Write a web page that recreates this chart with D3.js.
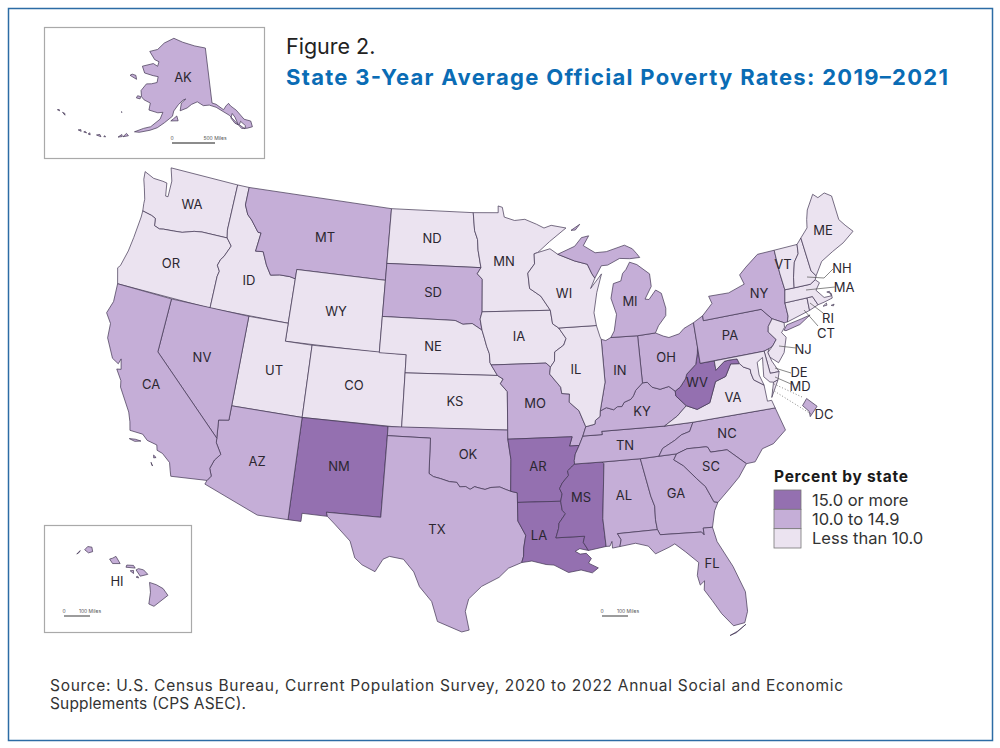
<!DOCTYPE html>
<html>
<head>
<meta charset="utf-8">
<script src="https://cdn.jsdelivr.net/npm/d3@7"></script>
<style>
  html, body { margin: 0; padding: 0; background: #fff; }
  svg { display: block; font-family: Inter, "Open Sans", sans-serif; }
  .state { stroke: #3f3350; stroke-width: 0.7; stroke-linejoin: round; }
  .lbl { font-size: 13px; fill: #2b2730; text-anchor: middle; dominant-baseline: central; }
  .leader { stroke: #555; stroke-width: 0.7; fill: none; }
</style>
</head>
<body>
<svg id="chart" width="1000" height="748"></svg>
<script>
// poverty class per state
var high = ["NM", "AR", "LA", "MS", "WV"];
var low = ["WA", "OR", "ID", "WY", "UT", "CO", "ND", "NE", "KS", "MN", "IA", "WI", "IL", "VA", "NJ", "DE", "MD", "NH", "VT", "ME", "MA", "RI", "CT"];
var legendLabels = ["15.0 or more", "10.0 to 14.9", "Less than 10.0"];
var classColors = ["#9470b0", "#c5aed7", "#ebe3f0"];

// river borders shared by two states, lon/lat
var redRiver = [[-100,34.56],[-99.7,34.4],[-99.2,34.3],[-98.6,34.15],[-98.1,34.12],[-97.9,33.88],[-97.5,33.9],[-97.2,33.75],[-96.9,33.9],[-96.6,33.83],[-96.2,33.75],[-95.8,33.86],[-95.2,33.88],[-94.8,33.74],[-94.48,33.64]];
var missTN = [[-89.7,36],[-90,35.55],[-90.1,35.2],[-90.1,35]];
var missAR = [[-90.1,35],[-90.3,34.85],[-90.6,34.65],[-90.55,34.4],[-91,34],[-91.2,33.7],[-91.05,33.4],[-91.17,33]];
var missLA = [[-91.17,33],[-91.1,32.5],[-90.9,32.3],[-91.35,31.8],[-91.4,31.5],[-91.6,31]];
var ohioIL = [[-89.15,37],[-88.5,37.1],[-88.45,37.3],[-88.1,37.5],[-88.05,37.8]];
var ohioIN = [[-88.05,37.8],[-87.6,37.95],[-87.1,37.8],[-86.8,37.95],[-86.5,37.93],[-86.3,38.15],[-85.8,38.28],[-85.6,38.45],[-85.4,38.73],[-84.85,39.1]];
var ohioOH = [[-84.85,39.1],[-84.5,39.1],[-84.2,38.8],[-83.65,38.63],[-83,38.72],[-82.6,38.42]];
var ohioWV = [[-82.6,38.42],[-82.2,38.6],[-81.75,39],[-81.6,39.25],[-80.85,39.7],[-80.6,40.3],[-80.52,40.64]];
var rev = function (a) { return a.slice().reverse(); };

// outlines, lon/lat
var outlines = {
  WA: [[[-124.73,48.38],[-123.9,48.16],[-123.1,48.15],[-122.75,48.12],[-122.55,47.4],[-122.35,47.4],[-122.4,48.3],[-122.76,49],[-117.03,49],[-117.04,46.42],[-116.92,45.99],[-118.98,45.99],[-119.6,45.92],[-120.5,45.7],[-121.2,45.65],[-122,45.6],[-122.3,45.55],[-122.75,45.65],[-122.85,46.05],[-123.2,46.15],[-123.98,46.25],[-124.07,46.65],[-124.1,46.9],[-124.4,47.5],[-124.65,47.95]]],
  OR: [[[-116.92,45.99],[-118.98,45.99],[-119.6,45.92],[-120.5,45.7],[-121.2,45.65],[-122,45.6],[-122.3,45.55],[-122.75,45.65],[-122.85,46.05],[-123.2,46.15],[-123.98,46.25],[-123.96,45.9],[-124.05,44.7],[-124.15,43.9],[-124.4,43],[-124.55,42.84],[-124.2,42],[-117.03,42],[-117.03,43.8],[-116.95,44.1],[-117.2,44.4],[-117.05,44.75],[-116.85,44.95],[-116.47,45.6]]],
  ID: [[[-117.03,49],[-116.05,49],[-116.05,48],[-115.7,47.5],[-115.3,47.25],[-114.6,46.65],[-114.35,46.65],[-114.5,45.6],[-113.9,45.65],[-113.45,44.95],[-113,44.45],[-112.3,44.55],[-111.5,44.55],[-111.05,44.48],[-111.05,42],[-117.03,42],[-117.03,43.8],[-116.95,44.1],[-117.2,44.4],[-117.05,44.75],[-116.85,44.95],[-116.47,45.6],[-116.92,45.99],[-117.04,46.42]]],
  MT: [[[-116.05,49],[-104.05,49],[-104.05,45],[-111.05,45],[-111.05,44.48],[-111.5,44.55],[-112.3,44.55],[-113,44.45],[-113.45,44.95],[-113.9,45.65],[-114.5,45.6],[-114.35,46.65],[-114.6,46.65],[-115.3,47.25],[-115.7,47.5],[-116.05,48]]],
  WY: [[[-111.05,45],[-104.05,45],[-104.05,41],[-111.05,41]]],
  UT: [[[-114.05,42],[-111.05,42],[-111.05,41],[-109.05,41],[-109.05,37],[-114.05,37]]],
  CO: [[[-109.05,41],[-102.05,41],[-102.05,37],[-109.05,37]]],
  NM: [[[-109.05,37],[-103,37],[-103.04,32],[-106.62,32],[-106.53,31.78],[-108.2,31.78],[-108.2,31.33],[-109.05,31.33]]],
  AZ: [[[-114.05,37],[-109.05,37],[-109.05,31.33],[-111.07,31.33],[-114.81,32.5],[-114.72,32.72],[-114.5,33],[-114.7,33.4],[-114.5,33.9],[-114.15,34.27],[-114.6,34.85],[-114.63,35.1],[-114.75,36.1],[-114.05,36.2]]],
  NV: [[[-120,42],[-114.05,42],[-114.05,36.2],[-114.75,36.1],[-114.63,35.1],[-120,39]]],
  CA: [[[-124.2,42],[-120,42],[-120,39],[-114.63,35.1],[-114.6,34.85],[-114.15,34.27],[-114.5,33.9],[-114.7,33.4],[-114.5,33],[-114.72,32.72],[-117.12,32.53],[-117.25,32.85],[-117.4,33.25],[-118,33.65],[-118.4,33.75],[-118.5,34.03],[-119.2,34.15],[-119.6,34.42],[-120.5,34.45],[-120.65,34.9],[-120.9,35.4],[-121.9,36.6],[-122,36.95],[-122.5,37.5],[-122.2,37.55],[-122.4,38.1],[-122.5,37.8],[-123,38],[-123.75,39],[-123.85,39.8],[-124.35,40.3],[-124.1,41]],
       [[-120.4,34],[-120,33.93],[-119.6,34.03],[-120,34.05]],[[-118.55,33.45],[-118.35,33.35],[-118.5,33.3]],[[-118.6,33.03],[-118.45,32.85],[-118.55,32.95]]],
  ND: [[[-104.05,49],[-97.23,49],[-97.1,48],[-96.85,47.5],[-96.8,46.9],[-96.56,45.94],[-104.05,45.94]]],
  SD: [[[-104.05,45.94],[-96.56,45.94],[-96.85,45.6],[-96.45,45.3],[-96.45,43.5],[-96.6,43.1],[-96.45,42.49],[-97.2,42.85],[-97.9,42.8],[-98.5,43],[-104.05,43]]],
  NE: [[[-104.05,43],[-98.5,43],[-97.9,42.8],[-97.2,42.85],[-96.45,42.49],[-96.25,42],[-96.1,41.6],[-95.9,41.2],[-95.85,40.7],[-95.31,40],[-102.05,40],[-102.05,41],[-104.05,41]]],
  KS: [[[-102.05,40],[-95.31,40],[-94.9,39.8],[-95.1,39.55],[-94.61,39.11],[-94.62,37],[-102.05,37]]],
  OK: [[[-103,37],[-94.62,37],[-94.62,36.5],[-94.43,35.39]].concat(rev(redRiver), [[-100,36.5],[-103,36.5]])],
  TX: [[[-106.62,32],[-103.04,32],[-103,36.5],[-100,36.5]].concat(redRiver, [[-94.04,33.55],[-94.04,32],[-93.55,31.2],[-93.7,30.5],[-93.72,30.05],[-93.85,29.7],[-94.7,29.4],[-95.3,28.9],[-96.4,28.4],[-97.2,27.7],[-97.4,27],[-97.15,25.96],[-97.6,25.85],[-99.1,26.4],[-99.5,27.5],[-100.3,28.3],[-100.7,29.1],[-101.4,29.77],[-102.3,29.88],[-102.7,29.7],[-103.15,28.98],[-104,29.3],[-104.5,29.65],[-104.9,30.55],[-106,31.4],[-106.53,31.78]])],
  MN: [[[-97.23,49],[-95.15,49],[-95.15,49.38],[-94.8,49.3],[-94.65,48.75],[-93.8,48.55],[-92.95,48.6],[-92,48.3],[-91.4,48.07],[-90.8,48.2],[-89.6,48],[-91,47.3],[-92,46.72],[-92.29,46.66],[-92.29,46.1],[-92.85,45.6],[-92.75,44.75],[-91.9,44.3],[-91.22,43.5],[-96.45,43.5],[-96.45,45.3],[-96.85,45.6],[-96.56,45.94],[-96.8,46.9],[-96.85,47.5],[-97.1,48]]],
  IA: [[[-96.45,43.5],[-91.22,43.5],[-91.1,42.75],[-90.65,42.5],[-90.15,41.9],[-90.35,41.55],[-91.05,41.2],[-91.1,40.7],[-91.42,40.38],[-91.73,40.61],[-95.77,40.58],[-95.85,40.7],[-95.9,41.2],[-96.1,41.6],[-96.25,42],[-96.45,42.49],[-96.6,43.1]]],
  MO: [[[-95.77,40.58],[-91.73,40.61],[-91.42,40.38],[-91.5,40],[-90.75,39.25],[-90.7,38.9],[-90.15,38.85],[-90.2,38.4],[-89.55,37.9],[-89.15,37],[-89.4,36.5],[-89.7,36],[-90.37,36],[-90.15,36.5],[-94.62,36.5],[-94.62,37],[-94.61,39.11],[-95.1,39.55],[-94.9,39.8],[-95.31,40]]],
  AR: [[[-94.62,36.5],[-90.15,36.5],[-90.37,36]].concat(missTN, missAR, [[-94.04,33.02],[-94.04,33.55],[-94.48,33.64],[-94.43,35.39]])],
  LA: [[[-94.04,33.02]].concat(missLA, [[-89.73,31],[-89.85,30.67],[-89.55,30.2],[-90.1,30.33],[-90.4,30.2],[-90.1,30.03],[-89.7,30.05],[-89.4,29.75],[-89.6,29.5],[-89,29.2],[-89.4,28.95],[-90.1,29.15],[-90.9,29.05],[-91.8,29.5],[-92.3,29.55],[-93.2,29.77],[-93.85,29.7],[-93.72,30.05],[-93.7,30.5],[-93.55,31.2],[-94.04,32]])],
  MS: [[[-90.1,35],[-88.2,35],[-88.1,34.9],[-88.47,31.9],[-88.4,30.35],[-89.55,30.2],[-89.85,30.67],[-89.73,31]].concat(rev(missLA), rev(missAR))],
  AL: [[[-88.2,35],[-85.6,34.98],[-85.18,32.87],[-85,32.3],[-85.05,31.55],[-85,31],[-87.6,31],[-87.4,30.65],[-87.52,30.28],[-88,30.23],[-88,30.6],[-88.15,30.35],[-88.4,30.35],[-88.47,31.9],[-88.1,34.9]]],
  GA: [[[-85.6,34.98],[-83.11,35],[-83.35,34.7],[-82.75,34.3],[-82,33.5],[-81.5,33],[-81.1,32.1],[-80.85,32.03],[-81.15,31.6],[-81.45,30.72],[-82.05,30.75],[-82.05,30.37],[-82.2,30.55],[-84.86,30.7],[-85,31],[-85.05,31.55],[-85,32.3],[-85.18,32.87]]],
  FL: [[[-87.6,31],[-85,31],[-84.86,30.7],[-82.2,30.55],[-82.05,30.37],[-82.05,30.75],[-81.45,30.72],[-81.3,29.9],[-80.55,28.4],[-80.05,26.9],[-80.12,25.8],[-80.4,25.2],[-81.1,25.13],[-81.7,25.9],[-82.15,26.7],[-82.55,27.35],[-82.45,27.85],[-82.75,27.65],[-82.85,28.2],[-82.65,28.9],[-83.4,29.6],[-84,30.1],[-84.4,29.95],[-85.3,29.68],[-85.7,30.15],[-86.5,30.38],[-87.52,30.28],[-87.4,30.65]],
       [[-80.35,25.1],[-81,24.72],[-81.4,24.62],[-80.9,24.8]]],
  TN: [[[-89.7,36],[-89.4,36.5],[-88.05,36.5],[-88.07,36.68],[-83.68,36.6],[-81.68,36.59],[-82,36.12],[-82.6,36],[-83.1,35.75],[-84,35.4],[-84.32,35],[-85.6,34.98],[-88.2,35]].concat(rev(missTN))],
  NC: [[[-84.32,35],[-84,35.4],[-83.1,35.75],[-82.6,36],[-82,36.12],[-81.68,36.59],[-75.87,36.55],[-75.5,35.25],[-76.5,34.65],[-77.3,34.5],[-77.95,33.87],[-78.55,33.86],[-79.67,34.8],[-80.8,34.82],[-80.93,35.1],[-81.05,35.15],[-82.35,35.2],[-83.11,35]]],
  SC: [[[-83.11,35],[-82.35,35.2],[-81.05,35.15],[-80.93,35.1],[-80.8,34.82],[-79.67,34.8],[-78.55,33.86],[-79.2,33.2],[-79.9,32.7],[-80.85,32.03],[-81.1,32.1],[-81.5,33],[-82,33.5],[-82.75,34.3],[-83.35,34.7]]],
  KY: [[[-89.4,36.5]].concat(ohioIL, ohioIN, ohioOH, [[-82.6,38.15],[-81.97,37.54],[-82.7,37.05],[-83.68,36.6],[-88.07,36.68],[-88.05,36.5]])],
  VA: [[[-83.68,36.6],[-81.68,36.59],[-75.87,36.55],[-76,37],[-76.3,37],[-76.3,37.9],[-76.95,38.3],[-77.05,38.7],[-77.04,38.9],[-77.5,39.1],[-77.72,39.32],[-78.35,39.4],[-78.87,38.77],[-79.65,38.59],[-80.3,37.5],[-81.25,37.25],[-81.97,37.54],[-82.7,37.05]],
       [[-75.95,37.15],[-75.25,38.03],[-75.6,37.95]]],
  WV: [[[-81.97,37.54],[-82.6,38.15]].concat(ohioWV, [[-80.52,39.72],[-79.48,39.72],[-79.48,39.2],[-78.77,39.6],[-78.4,39.62],[-77.83,39.6],[-77.72,39.32],[-78.35,39.4],[-78.87,38.77],[-79.65,38.59],[-80.3,37.5],[-81.25,37.25]])],
  OH: [ohioOH.concat(ohioWV.slice(1), [[-80.52,41.98],[-81.3,41.75],[-81.7,41.5],[-82.5,41.38],[-82.9,41.5],[-83.45,41.73],[-84.8,41.7]])],
  IN: [[[-87.53,41.71],[-87.2,41.62],[-86.8,41.76],[-84.8,41.7]].concat(rev(ohioIN), [[-87.53,39.35]])],
  IL: [[[-90.65,42.5],[-87.8,42.49],[-87.6,41.85],[-87.53,41.71],[-87.53,39.35]].concat(rev(ohioIL), [[-89.55,37.9],[-90.2,38.4],[-90.15,38.85],[-90.7,38.9],[-90.75,39.25],[-91.5,40],[-91.42,40.38],[-91.1,40.7],[-91.05,41.2],[-90.35,41.55],[-90.15,41.9]])],
  WI: [[[-92.29,46.66],[-92,46.72],[-91,46.9],[-90.4,46.57],[-89.1,46.14],[-88.1,45.9],[-87.8,45.35],[-87.6,45.1],[-88,44.55],[-87.05,45.3],[-87.55,44.3],[-87.9,43.2],[-87.8,42.49],[-90.65,42.5],[-91.1,42.75],[-91.22,43.5],[-91.9,44.3],[-92.75,44.75],[-92.85,45.6],[-92.29,46.1]]],
  MI: [[[-90.4,46.57],[-89,46.95],[-88.4,47.4],[-87.8,47.47],[-88.3,46.95],[-87.4,46.5],[-86.5,46.5],[-85,46.75],[-84.4,46.5],[-84.1,46.2],[-83.9,45.97],[-84.7,45.97],[-85.5,46.05],[-86.5,45.75],[-87,45.75],[-87.6,45.1],[-87.8,45.35],[-88.1,45.9],[-89.1,46.14]],
       [[-86.8,41.76],[-84.8,41.7],[-83.45,41.73],[-83.15,42.1],[-82.5,42.6],[-82.42,43],[-82.6,43.85],[-83,44.07],[-83.6,43.6],[-83.9,43.65],[-83.3,44.3],[-83.3,45],[-84.2,45.6],[-84.75,45.78],[-85.1,45.4],[-85.4,45.2],[-85.6,44.8],[-86.2,44.7],[-86.5,43.9],[-86.2,43],[-86.5,42.1]],
       [[-89.2,47.85],[-88.45,48.15],[-88.85,47.85]]],
  PA: [[[-80.52,41.98],[-80.52,39.72],[-75.79,39.72],[-75.4,39.8],[-75.1,39.9],[-74.75,40.2],[-75.2,40.7],[-75.1,41],[-74.7,41.36],[-75.35,42],[-79.76,42],[-79.76,42.27]]],
  NY: [[[-79.76,42.27],[-79.76,42],[-75.35,42],[-74.7,41.36],[-73.9,41],[-73.65,41],[-73.5,41.3],[-73.5,42.05],[-73.27,42.75],[-73.35,43.7],[-73.35,45.01],[-74.7,45],[-75.8,44.45],[-76.4,44.1],[-76.2,43.55],[-77.5,43.25],[-79.05,43.27],[-78.9,42.85]],
       [[-74.03,40.6],[-73.75,40.85],[-72.6,40.98],[-71.9,41.07],[-72.8,40.7],[-73.9,40.55]]],
  NJ: [[[-74.7,41.36],[-75.1,41],[-75.2,40.7],[-74.75,40.2],[-75.1,39.9],[-75.55,39.6],[-75.5,39.35],[-74.95,38.93],[-74.4,39.4],[-74,40.2],[-74.25,40.5],[-73.95,40.75],[-73.9,41]]],
  DE: [[[-75.79,39.72],[-75.4,39.8],[-75.55,39.6],[-75.4,39.1],[-75.05,38.45],[-75.7,38.46]]],
  MD: [[[-79.48,39.72],[-75.79,39.72],[-75.7,38.46],[-75.05,38.45],[-75.25,38.03],[-75.6,37.95],[-75.85,38],[-76.2,38.35],[-76.1,38.9],[-76,39.4],[-76.45,39.2],[-76.5,38.5],[-76.3,37.9],[-76.95,38.3],[-77.05,38.7],[-77.04,38.9],[-77.5,39.1],[-77.72,39.32],[-77.83,39.6],[-78.4,39.62],[-78.77,39.6],[-79.48,39.2]]],
  CT: [[[-73.5,42.05],[-71.8,42.02],[-71.85,41.32],[-73.65,41],[-73.5,41.3]]],
  RI: [[[-71.8,42.02],[-71.38,42.02],[-71.13,41.5],[-71.85,41.32]]],
  MA: [[[-73.27,42.75],[-72.55,42.73],[-71.3,42.7],[-70.85,42.87],[-70.6,42.65],[-71,42.3],[-70.55,41.8],[-70,41.78],[-70.05,42.05],[-70.25,42.05],[-69.95,41.9],[-69.98,41.65],[-70.65,41.55],[-71.13,41.5],[-71.38,42.02],[-71.8,42.02],[-73.5,42.05]],
       [[-70.8,41.35],[-70.5,41.47],[-70.5,41.35]],[[-70.2,41.28],[-69.97,41.3],[-70.05,41.22]]],
  VT: [[[-73.35,45.01],[-71.5,45.01],[-71.6,44.5],[-72.05,44.1],[-72.4,43.3],[-72.55,42.73],[-73.27,42.75],[-73.35,43.7]]],
  NH: [[[-71.5,45.01],[-71.08,45.3],[-70.98,43.4],[-70.7,43.07],[-70.85,42.87],[-71.3,42.7],[-72.55,42.73],[-72.4,43.3],[-72.05,44.1],[-71.6,44.5]]],
  ME: [[[-71.08,45.3],[-70.4,45.75],[-70.25,46.2],[-70,46.7],[-69.23,47.46],[-68.9,47.2],[-68.3,47.35],[-67.8,47.07],[-67.8,45.7],[-67.45,45.3],[-67,44.85],[-68,44.4],[-69,44.1],[-70,43.75],[-70.7,43.07],[-70.98,43.4]]]
};
var dcOutline = [[-77.12,38.93],[-77.04,39],[-76.91,38.89],[-77.04,38.79],[-77.04,38.85]];
var akOutline = [
  [[-141,69.65],[-141,60.3],[-139.7,60],[-137.5,58.9],[-136.5,59.45],[-135.5,59.8],[-135,59.3],[-133.5,58.4],[-131.8,56.6],[-130,56],[-130,55],[-131.5,55],[-133.2,55.2],[-134.5,56.5],[-136,57.8],[-137.5,58.5],[-139.8,59.5],[-142,60],[-144,60],[-146,60.7],[-148,60.3],[-149.5,59.7],[-151.8,59.2],[-151.5,60.5],[-150,61.2],[-151,61],[-152.5,60.2],[-153.9,59.1],[-154.2,58.2],[-156.5,57],[-158.5,56],[-160.5,55.4],[-163.5,54.7],[-164.9,54.6],[-162.5,55.5],[-160.5,56],[-158,57.5],[-157.4,58.7],[-159,58.5],[-162,58.7],[-162,59.9],[-164.3,60.2],[-165.4,60.6],[-166.1,61.6],[-164.8,62.9],[-163,63.1],[-161,63.5],[-161,64.5],[-163,64.5],[-166.5,64.6],[-168.1,65.6],[-164,66.5],[-162,66.2],[-161.8,67],[-163.8,67.2],[-166.8,68.35],[-163.5,69],[-161,70.3],[-156.6,71.35],[-152,70.8],[-146,70.15]],
  [[-154.6,57.4],[-152.3,57.5],[-152.8,58.3],[-153.8,57.8]],
  [[-167,60.2],[-165.7,60.2],[-165.7,60.6],[-166.8,60.6]],
  [[-171.6,63.5],[-168.8,63.2],[-169.5,63.8],[-171,63.8]],
  [[-170.4,57.2],[-170.1,57.15],[-170.2,57.25]],
  [[-169,53],[-167.9,53.3],[-168.2,53.6]],[[-167.7,53.3],[-166.3,53.7],[-167,54]],
  [[-174.8,52.1],[-173.5,52.1],[-174,52.4]],[[-177,51.7],[-176.4,51.7],[-176.7,52]],
  [[-178.3,51.7],[-177.5,51.75],[-178,51.9]],[[-172.8,52.3],[-172.3,52.35],[-172.6,52.5]],
  [[-186.9,52.85],[-187.6,52.8],[-187.2,53]],[[-185,52.7],[-186,52.9],[-185.3,52.95]],
  [[-179.9,51.6],[-179,51.6],[-179.3,51.85]],
  [[-135.7,57.3],[-134.8,56.3],[-133.9,55.9],[-134.4,57.3],[-135,58]],
  [[-133.6,55.9],[-132.3,55],[-131.9,55.5],[-133,56.4]]
];
var hiOutline = [
  [[-159.78,22.05],[-159.55,21.88],[-159.3,21.95],[-159.35,22.2],[-159.6,22.23]],
  [[-160.25,21.8],[-160.05,22],[-160.1,21.9]],
  [[-158.28,21.55],[-158.1,21.3],[-157.65,21.3],[-157.9,21.7],[-158.1,21.6]],
  [[-157.3,21.1],[-156.75,21.05],[-156.85,21.2],[-157.25,21.22]],
  [[-157.05,20.9],[-156.85,20.75],[-156.85,20.92]],
  [[-156.7,20.95],[-156.45,20.6],[-156,20.7],[-156.25,20.95],[-156.55,21.02]],
  [[-156.7,20.55],[-156.55,20.5],[-156.6,20.6]],
  [[-155.9,20.25],[-155.85,19.7],[-155.95,19.05],[-155.65,18.92],[-154.82,19.52],[-155.1,19.9],[-155.5,20.12]]
];

var svg = d3.select("#chart");
var line = d3.line();

function fillOf(st) {
  if (high.indexOf(st) >= 0) return classColors[0];
  if (low.indexOf(st) >= 0) return classColors[2];
  return classColors[1];
}
function ringsPath(rings, proj) {
  return rings.map(function (r) { return line(r.map(proj)) + "Z"; }).join("");
}
// slide a projection so one lon/lat lands on a given pixel
function pinTo(proj, lonlat, x, y) {
  var p = proj(lonlat), t = proj.translate();
  return proj.translate([t[0] + x - p[0], t[1] + y - p[1]]);
}

// frames
svg.append("rect").attr("x", 8.5).attr("y", 8.5).attr("width", 984).attr("height", 732)
  .attr("fill", "none").attr("stroke", "#2c6ca5").attr("stroke-width", 1.5);
svg.append("rect").attr("x", 44.5).attr("y", 27.5).attr("width", 220).attr("height", 131)
  .attr("fill", "none").attr("stroke", "#a9a9a9").attr("stroke-width", 1.2);
svg.append("rect").attr("x", 44.5).attr("y", 525.5).attr("width", 147).attr("height", 107)
  .attr("fill", "none").attr("stroke", "#a9a9a9").attr("stroke-width", 1.2);

// lower 48
var usProj = d3.geoAlbers().rotate([96, 0]).center([0, 38]).parallels([29.5, 45.5])
  .scale(1035).translate([488, 412]);
svg.append("g").selectAll("path")
  .data(Object.keys(outlines))
  .enter().append("path")
  .attr("class", "state")
  .attr("fill", fillOf)
  .attr("d", function (st) { return ringsPath(outlines[st], usProj); });

// DC blown up beside the coast
var dcProj = pinTo(d3.geoAlbers().rotate([96, 0]).center([0, 38]).parallels([29.5, 45.5]).scale(5000),
  [-77.03, 38.9], 809, 407);
svg.append("path").attr("class", "state").attr("fill", classColors[1])
  .attr("d", ringsPath([dcOutline], dcProj));

// insets
var akProj = pinTo(d3.geoAlbers().rotate([149, 0]).center([0, 62]).parallels([55, 65]).scale(340),
  [-141, 60.3], 212, 103);
svg.append("path").attr("class", "state").attr("fill", classColors[1])
  .attr("d", ringsPath(akOutline, akProj));
var hiProj = d3.geoAlbers().rotate([157, 0]).center([0, 20.5]).parallels([19, 22])
  .scale(1030).translate([131, 578]);
svg.append("path").attr("class", "state").attr("fill", classColors[1])
  .attr("d", ringsPath(hiOutline, hiProj));

// state labels
var labels = [["WA",192,204],["OR",171,263],["CA",151,384],["NV",202,357],["ID",249,280],["MT",325,237],["WY",336,311],["UT",274,370],["AZ",257,461],["CO",354,385],["NM",339,466],["ND",432,238],["SD",433,292],["NE",433,346],["KS",455,401],["OK",468,454],["TX",437,529],["MN",504,261],["IA",519,336],["MO",535,403],["AR",538,466],["LA",539,535],["WI",564,293],["IL",576,369],["MS",581,497],["AL",624,495],["TN",625,445],["KY",642,411],["IN",620,370],["OH",666,357],["MI",630,301],["WV",697,382],["VA",733,397],["PA",730,335],["NY",759,293],["NC",727,433],["SC",711,466],["GA",676,493],["FL",712,563],["ME",823,230],["VT",783,264],["AK",183,77],["HI",117,581],
  ["NH",842,268],["MA",844,287],["RI",828,318],["CT",826,333],["NJ",803,349],["DE",799,372],["MD",800,386],["DC",824,414]];
svg.append("g").selectAll("text").data(labels).enter().append("text")
  .attr("class", "lbl")
  .attr("x", function (d) { return d[1]; })
  .attr("y", function (d) { return d[2]; })
  .text(function (d) { return d[0]; });

// leaders for the small eastern states
var leaders = [
  [[833,269],[824,278],[807,277]],
  [[835,287],[806,290]],
  [[823,313],[810,303]],
  [[818,326],[804,310]],
  [[796,348],[779,346]],
  [[791,373],[775,368]],
  [[791,384],[775,377]]
];
svg.append("g").selectAll("path").data(leaders).enter().append("path")
  .attr("class", "leader").attr("d", line);
svg.append("g").selectAll("path").data([[[802,397],[772,383]], [[811,414],[771,389]]]).enter().append("path")
  .attr("class", "leader").attr("stroke-dasharray", "1 2").attr("d", line);

// scale bars
function scaleBar(x0, x1, y, txt) {
  svg.append("line").attr("x1", x0).attr("x2", x1).attr("y1", y).attr("y2", y)
    .attr("stroke", "#666").attr("stroke-width", 1.3);
  svg.append("text").attr("x", x0).attr("y", y - 3).attr("font-size", 5).attr("fill", "#555")
    .attr("text-anchor", "middle").text("0");
  svg.append("text").attr("x", x1).attr("y", y - 3).attr("font-size", 5).attr("fill", "#555")
    .attr("text-anchor", "middle").text(txt);
}
scaleBar(172, 215, 143, "500 Miles");
scaleBar(64, 90, 616, "100 Miles");
scaleBar(602, 628, 616, "100 Miles");

// legend
var legY = d3.scaleBand().domain(legendLabels).range([490, 548]);
svg.append("text").attr("x", 774).attr("y", 482).attr("font-size", 15.5).attr("font-weight", 700)
  .attr("fill", "#1a1a1a").attr("textLength", 134).attr("lengthAdjust", "spacing").text("Percent by state");
var leg = svg.append("g").selectAll("g").data(legendLabels).enter().append("g");
leg.append("rect").attr("x", 774).attr("width", 27)
  .attr("y", function (d) { return legY(d); })
  .attr("height", legY.bandwidth())
  .attr("fill", function (d, i) { return classColors[i]; })
  .attr("stroke", "#777").attr("stroke-width", 0.8);
leg.append("text").attr("x", 812)
  .attr("y", function (d) { return legY(d) + legY.bandwidth() / 2; })
  .attr("dominant-baseline", "central").attr("font-size", 16.5).attr("fill", "#333")
  .text(function (d) { return d; });

// title and source
svg.append("text").attr("x", 286).attr("y", 54).attr("font-size", 21.5).attr("fill", "#222").text("Figure 2.");
svg.append("text").attr("x", 286).attr("y", 85).attr("font-size", 22).attr("font-weight", 700)
  .attr("fill", "#0a6cb5").attr("textLength", 662).attr("lengthAdjust", "spacing")
  .text("State 3-Year Average Official Poverty Rates: 2019–2021");
svg.append("text").attr("x", 50).attr("y", 691).attr("font-size", 15.5).attr("fill", "#333")
  .attr("textLength", 793).attr("lengthAdjust", "spacing")
  .text("Source: U.S. Census Bureau, Current Population Survey, 2020 to 2022 Annual Social and Economic");
svg.append("text").attr("x", 50).attr("y", 709).attr("font-size", 15.5).attr("fill", "#333")
  .attr("textLength", 196).attr("lengthAdjust", "spacing")
  .text("Supplements (CPS ASEC).");
</script>
</body>
</html>
